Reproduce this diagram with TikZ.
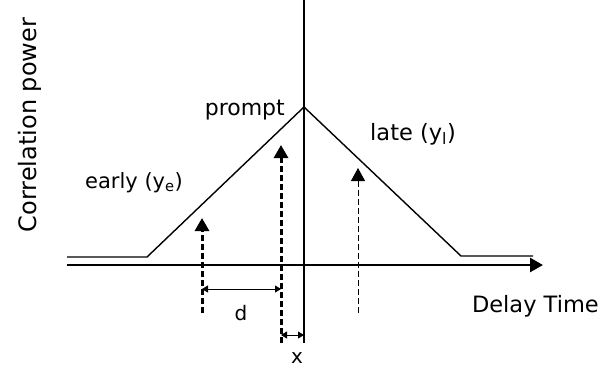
\documentclass[tikz,border=0pt]{standalone}
\usepackage{fontspec}
\setmainfont{DejaVu Sans}
\usetikzlibrary{arrows.meta}
\begin{document}
\begin{tikzpicture}[x=1pt, y=-1pt, >={Triangle[length=13pt,width=14pt]},
    lbl/.style={font=\fontsize{20}{24}\selectfont, inner sep=0pt},
    biglbl/.style={font=\fontsize{22.5}{26}\selectfont, inner sep=0pt},
    tap/.style={line width=3pt, dash pattern=on 6pt off 3pt},
    gap/.style={{Triangle[length=6pt,width=7pt]}-{Triangle[length=6pt,width=7pt]}, line width=0.8pt}]
    \useasboundingbox (0,0) rectangle (612,373);

    % Axes
    \coordinate (xstart) at (67,265);
    \coordinate (xend) at (543,265);
    \coordinate (ytop) at (304,0);
    \coordinate (ybot) at (304,343);
    \draw[->, line width=2.6pt] (xstart) -- (xend);
    \draw[line width=1.4pt] (ytop) -- (ybot);

    % Correlation triangle
    \coordinate (floorL) at (67,257);
    \coordinate (riseL) at (147,257);
    \coordinate (peak) at (304,107);
    \coordinate (fallR) at (461,256);
    \coordinate (floorR) at (533,256);
    \draw[line width=1.4pt] (floorL) -- (riseL) -- (peak) -- (fallR) -- (floorR);

    % Early, prompt and late correlators
    \coordinate (earlyB) at (202,313);
    \coordinate (earlyT) at (202,218);
    \coordinate (promptB) at (281,343);
    \coordinate (promptT) at (281,145);
    \coordinate (lateB) at (358,313);
    \coordinate (lateT) at (358,168);
    \draw[->, tap] (earlyB) -- (earlyT);
    \draw[->, tap] (promptB) -- (promptT);
    \draw[->, line width=1pt, dash pattern=on 6pt off 3pt] (lateB) -- (lateT);

    % Spacings d and x
    \coordinate (dL) at (202,289);
    \coordinate (dR) at (281,289);
    \coordinate (xL) at (281,335);
    \coordinate (xR) at (304,335);
    \draw[gap] (dL) -- (dR);
    \draw[gap] (xL) -- (xR);

    % Labels
    \node[lbl] (d) at (241,313) {d};
    \node[lbl] (x) at (297,358) {x};
    \node[lbl, font=\fontsize{22}{26}\selectfont, anchor=base east] (prompt) at (285,115) {prompt};
    \node[lbl, font=\fontsize{21}{24}\selectfont, anchor=base west] (early) at (85,188) {early (y\textsubscript{e})};
    \node[lbl, font=\fontsize{22.5}{26}\selectfont, anchor=base west] (late) at (370,140) {late (y\textsubscript{l})};
    \node[biglbl, anchor=base east] (delay) at (599,312) {Delay Time};
    \node[biglbl, font=\fontsize{24}{28}\selectfont, rotate=90] (power) at (30,125) {Correlation power};
\end{tikzpicture}
\end{document}
